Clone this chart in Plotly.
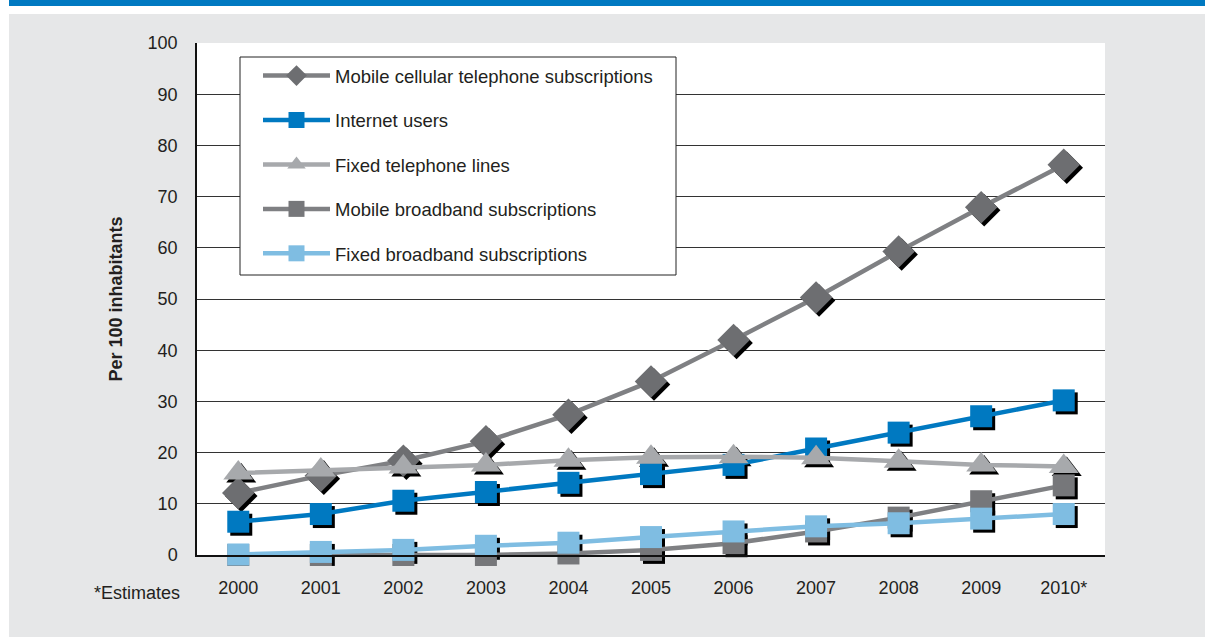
import plotly.graph_objects as go

years = ["2000", "2001", "2002", "2003", "2004", "2005", "2006", "2007", "2008", "2009", "2010*"]

mobile_cellular = [12.1, 15.5, 18.4, 22.2, 27.4, 33.9, 42.0, 50.3, 59.3, 67.9, 76.2]
internet_users = [6.5, 8.0, 10.6, 12.3, 14.1, 15.8, 17.6, 20.8, 23.9, 27.1, 30.2]
fixed_telephone = [16.0, 16.6, 17.2, 17.6, 18.5, 19.1, 19.2, 19.0, 18.3, 17.6, 17.3]
mobile_broadband = [0.0, 0.0, 0.0, 0.0, 0.3, 1.0, 2.3, 4.6, 7.3, 10.5, 13.6]
fixed_broadband = [0.1, 0.6, 1.0, 1.8, 2.4, 3.5, 4.6, 5.6, 6.2, 7.1, 8.0]

series = [
    ("Mobile cellular telephone subscriptions", mobile_cellular, "diamond", 25, "#6d6e71", "#7f8083"),
    ("Internet users", internet_users, "square", 22, "#0079c1", "#0079c1"),
    ("Fixed telephone lines", fixed_telephone, "triangle-up", 26, "#a7a9ac", "#a7a9ac"),
    ("Mobile broadband subscriptions", mobile_broadband, "square", 22, "#76777a", "#7f8083"),
    ("Fixed broadband subscriptions", fixed_broadband, "square", 22, "#7fbde2", "#7fbde2"),
]

W, H = 1205, 637
ML, MR, MT, MB = 197, 100, 43, 82
PW, PH = W - ML - MR, H - MT - MB
FONT = "Liberation Sans Narrow, Arial Narrow, Liberation Sans, sans-serif"

def px_x(p):
    return (p - ML) / PW

def px_y(p):
    return (H - MB - p) / PH

# shadow offset (pixels)
SH = 3
dx = SH / (PW / len(years))
dy = SH / (PH / 100.0)

fig = go.Figure()

# shadows (on hidden, offset axes)
for name, vals, sym, size, mcol, lcol in series:
    fig.add_trace(go.Scatter(
        x=years, y=vals, mode="markers", xaxis="x", yaxis="y",
        marker=dict(symbol=sym, size=size, color="black", line=dict(width=0)),
        showlegend=False, hoverinfo="skip", cliponaxis=False,
    ))

# main series
for i, (name, vals, sym, size, mcol, lcol) in enumerate(series):
    fig.add_trace(go.Scatter(
        x=years, y=vals, mode="lines+markers", name=name, xaxis="x2", yaxis="y2",
        line=dict(color=lcol, width=4.5),
        marker=dict(symbol=sym, size=size, color=mcol, line=dict(width=0)),
        legendgroup=f"g{i}", cliponaxis=False,
    ))

shapes = [
    dict(type="rect", xref="paper", yref="paper", x0=px_x(0), x1=px_x(W), y0=px_y(14), y1=px_y(0),
         fillcolor="white", line=dict(width=0), layer="below"),
    dict(type="rect", xref="paper", yref="paper", x0=px_x(0), x1=px_x(9), y0=px_y(H), y1=px_y(0),
         fillcolor="white", line=dict(width=0), layer="below"),
    dict(type="rect", xref="paper", yref="paper", x0=px_x(9), x1=px_x(W), y0=px_y(6), y1=px_y(0),
         fillcolor="#0079c1", line=dict(width=0), layer="below"),
    # legend box
    dict(type="rect", xref="paper", yref="paper", x0=px_x(240), x1=px_x(676), y0=px_y(275), y1=px_y(57),
         fillcolor="white", line=dict(color="#222222", width=1), layer="above"),
]

fig.update_layout(
    width=W, height=H,
    margin=dict(l=ML, r=MR, t=MT, b=MB),
    paper_bgcolor="#e6e7e8",
    plot_bgcolor="white",
    font=dict(family=FONT, size=18, color="#231f20"),
    xaxis=dict(type="category", range=[-0.5 - dx, len(years) - 0.5 - dx], visible=False),
    yaxis=dict(range=[dy, 100 + dy], visible=False),
    xaxis2=dict(type="category", overlaying="x", range=[-0.5, len(years) - 0.5],
                showgrid=False, showline=True, linecolor="#111111", linewidth=1.5,
                ticks="", ticklabelstandoff=16, tickfont=dict(size=18), zeroline=False),
    yaxis2=dict(overlaying="y", range=[0, 100], dtick=10,
                showgrid=True, gridcolor="#333333", gridwidth=1,
                showline=True, linecolor="#111111", linewidth=1.5,
                ticks="", ticklabelstandoff=14, tickfont=dict(size=18), zeroline=False,
                title=dict(text="<b>Per 100 inhabitants</b>", font=dict(size=18), standoff=20)),
    legend=dict(x=px_x(258), y=px_y(57), xanchor="left", yanchor="top",
                bgcolor="rgba(0,0,0,0)", borderwidth=0, traceorder="grouped",
                tracegroupgap=17.4, itemwidth=67, font=dict(size=18.5)),
    shapes=shapes,
    annotations=[dict(text="*Estimates", xref="paper", yref="paper", x=px_x(92), y=px_y(593),
                      xanchor="left", yanchor="middle", showarrow=False, font=dict(size=18))],
)

fig.write_html("out.html", config={"displayModeBar": False},
               post_script="document.body.style.margin='0';document.body.style.padding='0';")
